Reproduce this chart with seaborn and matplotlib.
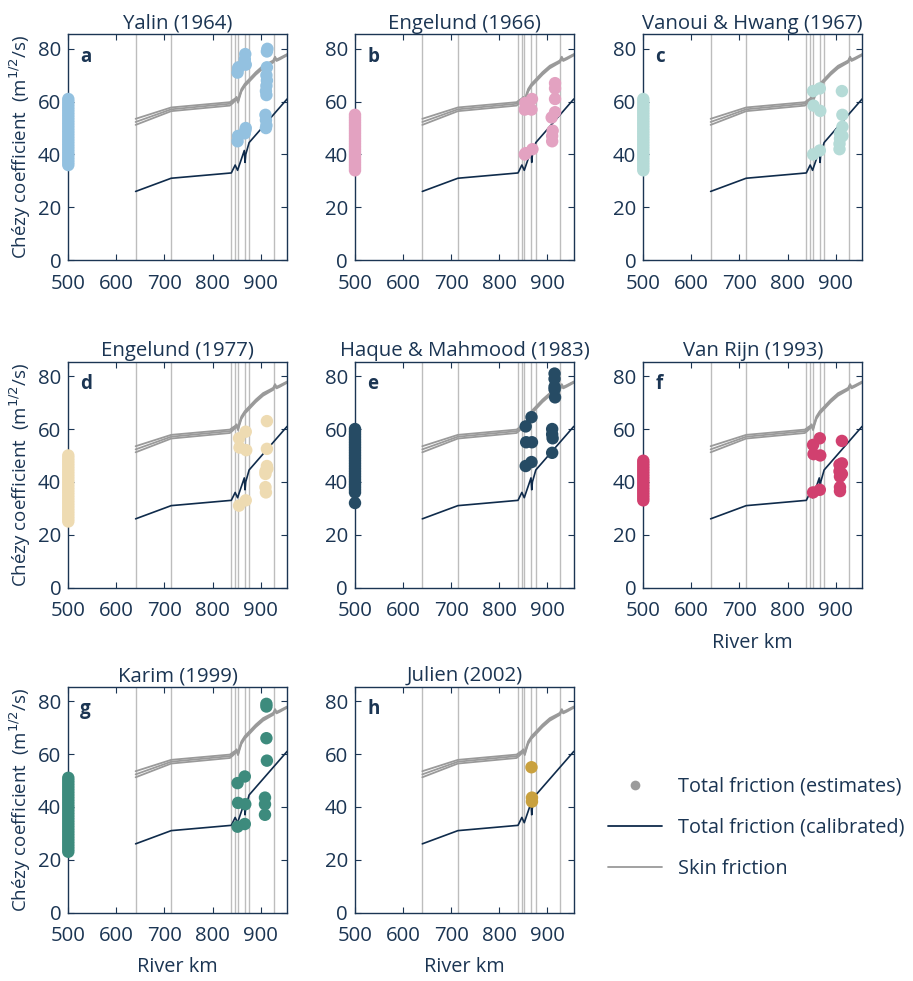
import numpy as np
import pandas as pd
import matplotlib
matplotlib.use("Agg")
import matplotlib.pyplot as plt
import seaborn as sns
from matplotlib.lines import Line2D

sns.set_theme(style="white")
plt.rcParams['font.family'] = ['Open Sans', 'DejaVu Sans']

NAVY = "#1b3553"
GRID_GREY = "#bdbdbd"
SKIN_GREY = "#9a9a9a"
CAL_COLOR = "#0f2b4b"

# ---------------- data ----------------
titles = ["Yalin (1964)", "Engelund (1966)", "Vanoui & Hwang (1967)", "Engelund (1977)",
          "Haque & Mahmood (1983)", "Van Rijn (1993)", "Karim (1999)", "Julien (2002)"]
letters = ["a", "b", "c", "d", "e", "f", "g", "h"]
colors = ["#93c1e0", "#e3a2c1", "#b5dbd7", "#eedbb2", "#264b64", "#d1406f", "#3d8b7d", "#c9a13f"]

# vertical reference lines (river km)
vlines_km = [640, 714, 839, 847, 852, 867, 876, 927]

# calibrated total friction
cal_km = [640, 714, 839, 847, 852, 866, 867.5, 869, 876, 955]
cal_C = [26, 31, 33, 36, 34, 41.5, 37, 40, 44.5, 61]

# skin friction (three lines)
skin_km = [640, 714, 836, 842, 847, 850, 853, 856, 860, 867, 876, 890, 905, 920, 926, 930, 933, 940, 955]
skin_1 = [53.5, 57.8, 59.8, 60.6, 61.2, 61.8, 60.5, 62.5, 64.8, 66.8, 68.5, 71.2, 73.6, 75.0, 75.6, 77.0, 76.0, 76.6, 78.0]
skin_2 = [52.3, 57.1, 59.2, 60.0, 60.8, 61.4, 60.0, 62.0, 64.3, 66.3, 68.0, 70.7, 73.1, 74.6, 75.2, 76.6, 75.7, 76.3, 77.8]
skin_3 = [51.2, 56.4, 58.5, 59.4, 60.3, 61.0, 59.6, 61.5, 63.8, 65.8, 67.5, 70.2, 72.6, 74.2, 74.8, 76.2, 75.4, 76.0, 77.5]

# estimates at the upstream station (km 500), per method
est500_C = [
    [36, 37, 38, 39, 40, 41, 42, 43, 44, 45, 46, 47, 48, 49, 50, 51, 52, 53, 54, 55, 56, 57, 58, 59, 60, 61],
    [34, 35, 36, 37, 38, 39, 40, 41, 42, 43, 44, 45, 46, 47, 48, 49, 50, 51, 52, 53, 54, 55],
    [34, 35, 36, 37, 38, 39, 40, 41, 42, 43, 44, 45, 46, 47, 48, 49, 50, 51, 52, 53, 54, 55, 56, 57, 58, 59, 60, 61],
    [25, 26, 27, 28, 29, 30, 31, 32, 33, 34, 35, 36, 37, 38, 39, 40, 41, 42, 43, 44, 45, 46, 47, 48, 49, 50],
    [32, 36, 37, 38, 39, 40, 41, 42, 43, 44, 45, 46, 47, 48, 49, 50, 51, 52, 53, 54, 55, 56, 57, 58, 59, 60],
    [33, 34, 35, 36, 37, 38, 39, 40, 41, 42, 43, 44, 45, 46, 47, 48],
    [23, 24, 25, 26, 27, 28, 29, 30, 31, 32, 33, 34, 35, 36, 37, 38, 39, 40, 41, 42, 43, 44, 45, 46, 47, 48, 49, 50, 51],
    [],
]
# estimates at downstream stations, per method
est_km = [
    [852, 853, 854, 852, 853, 867, 868, 869, 868, 867, 869, 913, 914, 913, 912, 913, 912, 911, 912, 910, 911, 912, 911],
    [853, 854, 853, 855, 867, 868, 869, 909, 910, 910, 911, 916, 916, 916, 916],
    [853, 854, 853, 867, 868, 867, 908, 908, 909, 909, 913, 914, 914, 914],
    [855, 856, 855, 869, 870, 869, 910, 910, 910, 911, 913, 913, 913, 914],
    [855, 856, 855, 867, 868, 867, 910, 910, 911, 910, 915, 915, 915, 915, 916],
    [853, 854, 853, 867, 868, 867, 908, 908, 909, 909, 909, 913, 913, 913],
    [852, 853, 852, 867, 868, 867, 909, 909, 909, 912, 912, 912, 913],
    [867, 868, 868],
]
est_C = [
    [71, 72.5, 73, 45, 47, 76, 78, 74, 49, 48, 50, 79, 80, 73, 70, 68, 66, 64, 62.5, 55, 53, 51, 50],
    [57, 59.5, 40, 40.5, 57, 61, 42, 54, 45, 47, 49, 67, 65, 61, 56],
    [64, 58.5, 40, 65, 56.5, 41.5, 42, 44, 46, 48, 64, 55, 50.5, 47],
    [56.5, 53, 31, 59, 52, 33, 44, 43, 38, 36, 63, 52.5, 46, 45],
    [61, 55, 46, 64.5, 55, 47.5, 60, 58, 56.5, 51, 81, 79, 76, 75, 72],
    [54, 50.5, 36, 56.5, 50, 37, 46.5, 44, 42, 38, 36.5, 55.5, 47, 43],
    [49, 41.5, 32.5, 51.5, 41, 33.5, 43.5, 41, 37, 79, 78, 66, 57.5],
    [55, 43.5, 42],
]

xticks = [500, 600, 700, 800, 900]
yticks = [0, 20, 40, 60, 80]
ylabel = "Chézy coefficient  (m$^{1/2}$/s)"
xlabel = "River km"

# ---------------- layout ----------------
W, H = 913, 981
fig = plt.figure(figsize=(W / 100, H / 100), dpi=100)
col_left = [68.3, 355.0, 643.3]
row_top = [34.3, 361.7, 686.7]
aw, ah = 218.8, 225.8

cal_df = pd.DataFrame({"km": cal_km, "C": cal_C})
skin_df = pd.concat([
    pd.DataFrame({"km": skin_km, "C": s, "id": i}) for i, s in enumerate([skin_1, skin_2, skin_3])
])

for i in range(8):
    r, c = divmod(i, 3)
    ax = fig.add_axes([col_left[c] / W, 1 - (row_top[r] + ah) / H, aw / W, ah / H])
    for xv in vlines_km:
        ax.axvline(xv, color=GRID_GREY, lw=1.0, zorder=1)
    for k in range(3):
        sub = skin_df[skin_df["id"] == k]
        sns.lineplot(data=sub, x="km", y="C", ax=ax, color=SKIN_GREY, lw=1.3,
                     estimator=None, sort=False, zorder=2)
    sns.lineplot(data=cal_df, x="km", y="C", ax=ax, color=CAL_COLOR, lw=1.2,
                 estimator=None, sort=False, zorder=3)
    est_df = pd.DataFrame({"km": [500] * len(est500_C[i]) + est_km[i],
                           "C": est500_C[i] + est_C[i]})
    sns.scatterplot(data=est_df, x="km", y="C", ax=ax, color=colors[i], s=80,
                    edgecolor="none", linewidth=0, zorder=4, clip_on=False)

    ax.set_xlim(500, 955)
    ax.set_ylim(0, 85.5)
    ax.set_xticks(xticks)
    ax.set_yticks(yticks)
    ax.tick_params(direction="in", length=4, width=0.8, colors=NAVY, labelsize=14.7,
                   top=True, right=True, bottom=True, left=True)
    ax.tick_params(axis="x", pad=10)
    ax.tick_params(axis="y", pad=5)
    for sp in ax.spines.values():
        sp.set_color(NAVY)
        sp.set_linewidth(1.0)
    ax.set_title(titles[i], color=NAVY, fontsize=14.7, pad=4)
    ax.text(0.055, 0.945, letters[i], transform=ax.transAxes, color=NAVY,
            fontsize=13.5, fontweight="bold", va="top", ha="left")
    ax.set_ylabel(ylabel if c == 0 else "", color=NAVY, fontsize=13.5, labelpad=4)
    ax.set_xlabel(xlabel if i in (5, 6, 7) else "", color=NAVY, fontsize=14.3, labelpad=8)

handles = [
    Line2D([], [], marker="o", color="none", markerfacecolor="#9b9b9b", markeredgecolor="none", markersize=7),
    Line2D([], [], color=CAL_COLOR, lw=1.3),
    Line2D([], [], color=SKIN_GREY, lw=1.3),
]
labels = ["Total friction (estimates)", "Total friction (calibrated)", "Skin friction"]
leg = fig.legend(handles, labels, loc="upper left", bbox_to_anchor=(590 / W, 1 - 759 / H),
                 frameon=False, fontsize=14.3, handlelength=2.7, handletextpad=0.85,
                 labelspacing=1.05, labelcolor=NAVY)

fig.savefig("out.png", dpi=100)
